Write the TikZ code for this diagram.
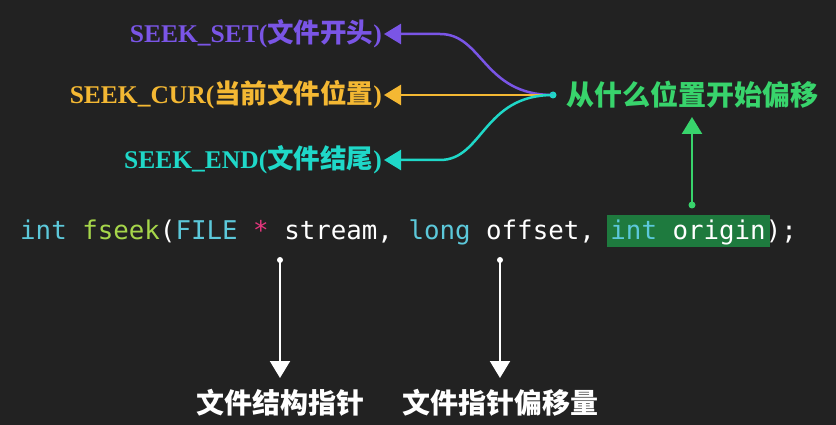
\documentclass[tikz,border=0pt]{standalone}
\usepackage{fontspec}
\setmainfont{Liberation Serif}
\newfontfamily\cjk{Noto Sans CJK SC}
\newfontfamily\code{DejaVu Sans Mono}
\usetikzlibrary{arrows.meta,positioning}
\definecolor{bg}{HTML}{222222}
\definecolor{setc}{HTML}{7A55E6}
\definecolor{curc}{HTML}{F4B833}
\definecolor{endc}{HTML}{1FD8C8}
\definecolor{orig}{HTML}{38D46C}
\definecolor{kw}{HTML}{5CC8DA}
\definecolor{fn}{HTML}{A6D64A}
\definecolor{star}{HTML}{E6367E}
\definecolor{hl}{HTML}{1E7A3E}
\tikzset{
  lab/.style={font=\fontsize{25.5}{28}\selectfont\bfseries, inner sep=2pt},
  cn/.style={font=\fontsize{28}{32}\selectfont\cjk\bfseries, inner sep=0pt},
  tip/.style={-{Triangle[width=20pt,length=17pt]}},
  dot/.style={circle, fill, inner sep=0pt, minimum size=7pt}
}
\newcommand{\zh}[1]{{\fontsize{26.5}{28}\selectfont\cjk #1}}
\begin{document}
\begin{tikzpicture}[x=1pt,y=-1pt]
\fill[bg] (0,0) rectangle (836,425);
\useasboundingbox (0,0) rectangle (836,425);

%the three constants
\node[lab, anchor=east, text=setc] (set) at (384,34) {SEEK\_SET(\zh{文件开头})};
\node[lab, anchor=east, text=curc] (cur) at (384,95) {SEEK\_CUR(\zh{当前文件位置})};
\node[lab, anchor=east, text=endc] (end) at (384,160) {SEEK\_END(\zh{文件结尾})};

\node[dot, endc] (src) at (553,95) {};
\node[cn, anchor=west, text=orig] (from) at (566,95) {从什么位置开始偏移};

\draw[setc, line width=2.5pt, tip] (src.center) .. controls (483,95) and (483,34) .. (440,34) -- (set.east);
\draw[curc, line width=2.5pt, tip] (src.center) -- (cur.east);
\draw[endc, line width=2.5pt, tip] (src.center) .. controls (483,95) and (483,160) .. (440,160) -- (end.east);

%the prototype
\fill[hl] (607,215) rectangle (770,247);
\node[anchor=west, inner sep=0pt, text=white, font=\fontsize{25.8}{28}\selectfont\code] (proto) at (20,232)
  {\textcolor{kw}{int} \textcolor{fn}{fseek}(\textcolor{kw}{FILE} \textcolor{star}{*} stream, \textcolor{kw}{long} offset, \textcolor{kw}{int} origin);};

%the arrows
\node[dot, orig] (o) at (692,205) {};
\draw[orig, line width=2.5pt, tip] (o.center) -- (692,117) coordinate (otip);

\node[dot, white, minimum size=6pt] (s) at (280,260) {};
\node[dot, white, minimum size=6pt] (f) at (500,260) {};
\coordinate (stip) at (280,378);
\coordinate (ftip) at (500,378);
\draw[white, line width=2pt, tip] (s.center) -- (stip);
\draw[white, line width=2pt, tip] (f.center) -- (ftip);

\node[cn, text=white] (sname) at (280,403) {文件结构指针};
\node[cn, text=white] (fname) at (500,403) {文件指针偏移量};
\end{tikzpicture}
\end{document}
